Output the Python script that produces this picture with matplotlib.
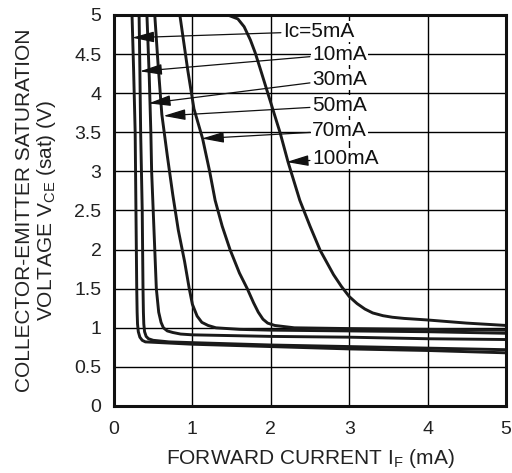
import matplotlib
matplotlib.use("Agg")
import matplotlib.pyplot as plt

plt.rcParams['font.family'] = ['Liberation Sans', 'DejaVu Sans']
plt.rcParams['mathtext.fontset'] = 'custom'
plt.rcParams['mathtext.rm'] = 'Liberation Sans'
plt.rcParams['mathtext.it'] = 'Liberation Sans'

# Forward current I_F (mA) vs V_CE(sat) (V) for each collector current
if_5 = [0.23, 0.25, 0.27, 0.28, 0.29, 0.295, 0.30, 0.31, 0.33, 0.36, 0.40, 0.6, 1.0, 2.0, 3.0, 4.0, 5.0]
v_5 = [5.0, 4.3, 3.5, 2.5, 1.5, 1.2, 1.05, 0.95, 0.88, 0.84, 0.82, 0.81, 0.79, 0.76, 0.73, 0.71, 0.68]

if_10 = [0.32, 0.33, 0.34, 0.36, 0.37, 0.375, 0.38, 0.39, 0.41, 0.44, 0.5, 0.7, 1.0, 2.0, 3.0, 4.0, 5.0]
v_10 = [5.0, 4.3, 3.5, 2.5, 1.5, 1.2, 1.05, 0.95, 0.89, 0.86, 0.84, 0.82, 0.81, 0.78, 0.76, 0.74, 0.72]

if_30 = [0.42, 0.45, 0.47, 0.48, 0.50, 0.52, 0.54, 0.57, 0.60, 0.63, 0.68, 0.75, 0.85, 1.0, 2.0, 3.0, 4.0, 5.0]
v_30 = [5.0, 4.2, 3.5, 3.0, 2.5, 2.0, 1.5, 1.2, 1.07, 1.0, 0.96, 0.94, 0.92, 0.91, 0.89, 0.88, 0.86, 0.85]

if_50 = [0.52, 0.56, 0.61, 0.68, 0.75, 0.82, 0.90, 0.96, 1.00, 1.06, 1.12, 1.2, 1.3, 1.6, 2.0, 3.0, 4.0, 5.0]
v_50 = [5.0, 4.4, 3.73, 3.2, 2.7, 2.25, 1.85, 1.5, 1.3, 1.15, 1.07, 1.03, 1.0, 0.98, 0.97, 0.96, 0.95, 0.93]

if_70 = [0.84, 0.94, 1.02, 1.13, 1.22, 1.29, 1.38, 1.48, 1.60, 1.70, 1.78, 1.84, 1.90, 1.96, 2.05, 2.3, 3.0, 4.0, 5.0]
v_70 = [5.0, 4.3, 3.8, 3.42, 3.0, 2.63, 2.3, 2.0, 1.7, 1.5, 1.32, 1.2, 1.11, 1.06, 1.03, 1.0, 0.99, 0.98, 0.97]

if_100 = [1.45, 1.58, 1.66, 1.74, 1.80, 1.86, 1.99, 2.12, 2.22, 2.37, 2.50, 2.63, 2.80, 2.90, 3.00, 3.10, 3.20, 3.30, 3.43, 3.55, 3.70, 4.00, 4.50, 5.0]
v_100 = [5.0, 4.95, 4.85, 4.68, 4.52, 4.33, 3.91, 3.49, 3.12, 2.63, 2.3, 1.99, 1.68, 1.53, 1.40, 1.31, 1.24, 1.19, 1.155, 1.135, 1.12, 1.10, 1.06, 1.03]

labels = ["Ic=5mA", "10mA", "30mA", "50mA", "70mA", "100mA"]
curves = [(if_5, v_5), (if_10, v_10), (if_30, v_30), (if_50, v_50), (if_70, v_70), (if_100, v_100)]
# arrow tip (on curve) and label positions
tips = [(0.23, 4.71), (0.33, 4.28), (0.44, 3.87), (0.63, 3.71), (1.12, 3.42), (2.20, 3.12)]
label_pos = [(2.16, 4.79), (2.53, 4.50), (2.53, 4.18), (2.53, 3.84), (2.53, 3.52), (2.53, 3.17)]

xticks = [0, 1, 2, 3, 4, 5]
yticks = [0, 0.5, 1, 1.5, 2, 2.5, 3, 3.5, 4, 4.5, 5]

fig = plt.figure(figsize=(5.12, 4.73), dpi=100)
ax = fig.add_axes([114/512, 1-406/473, 392/512, 391/473])

ax.set_xlim(0, 5)
ax.set_ylim(0, 5)
ax.set_xticks(xticks)
ax.set_yticks(yticks)
ax.set_xticklabels([str(t) for t in xticks])
ax.set_yticklabels(["0", "0.5", "1", "1.5", "2", "2.5", "3", "3.5", "4", "4.5", "5"])
ax.tick_params(axis='y', length=0, labelsize=14, pad=9, colors='#222222')
ax.tick_params(axis='x', length=0, labelsize=14, pad=11, colors='#222222')
ax.grid(True, color='black', lw=1.0)
ax.set_axisbelow(True)
for s in ax.spines.values():
    s.set_linewidth(2.2)
    s.set_color('#111111')

for xs, ys in curves:
    ax.plot(xs, ys, color='#1a1a1a', lw=2.1, solid_joinstyle='round', clip_on=True)

for lab, tip, pos in zip(labels, tips, label_pos):
    ax.annotate(lab, xy=tip, xytext=pos, ha='left', va='center', fontsize=15,
                color='#111111',
                bbox=dict(boxstyle='square,pad=0.05', fc='white', ec='none'),
                arrowprops=dict(arrowstyle='-|>,head_length=0.9,head_width=0.22',
                                color='#111111', lw=0.9, shrinkA=1, shrinkB=0))

ax.set_xlabel(r"FORWARD CURRENT I$_{\mathrm{F}}$ (mA)", fontsize=15, labelpad=6, color='#222222')
ax.set_ylabel("COLLECTOR-EMITTER SATURATION\n" + r"VOLTAGE V$_{\mathrm{CE}}$ (sat) (V)",
              fontsize=15, labelpad=12, color='#222222', linespacing=1.05)

fig.savefig("out.png", dpi=100, facecolor='white')
